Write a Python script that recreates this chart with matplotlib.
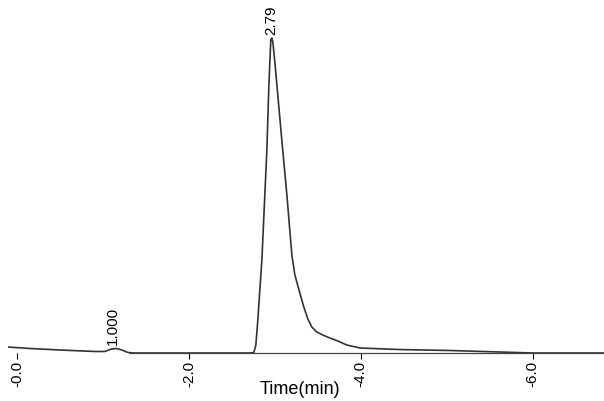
import numpy as np
import matplotlib
matplotlib.use('Agg')
import matplotlib.pyplot as plt

# chromatogram trace (time in min, signal in % of main peak)
time = [-0.105, 0.15, 0.50, 0.91, 1.02, 1.10, 1.16, 1.22, 1.29, 1.37,
        2.71, 2.756, 2.779, 2.802, 2.849, 2.907, 2.930, 2.942, 2.953, 2.965,
        2.977, 3.00, 3.081, 3.14, 3.198, 3.233, 3.291, 3.337, 3.384, 3.43,
        3.488, 3.558, 3.64, 3.733, 3.837, 3.99, 4.45, 5.03, 6.0, 6.83]
signal = [1.9, 1.43, 0.95, 0.48, 0.48, 1.27, 1.43, 0.95, 0.16, 0.0,
          0.0, 0.16, 2.54, 10.5, 29.5, 64.4, 84.4, 92.4, 99.4, 100.0,
          98.7, 92.4, 67.6, 50.2, 31.1, 24.8, 19.0, 14.6, 10.8, 8.25,
          6.67, 5.71, 4.76, 3.81, 2.54, 1.59, 1.1, 0.8, 0.0, 0.0]

# peak annotations: position, height, label
peak_t = [1.12, 2.958]
peak_h = [1.6, 100.0]
peak_lbl = ['1.000', '2.79']

ticks = [0.0, 2.0, 4.0, 6.0]
tick_lbls = ['-0.0', '-2.0', '-4.0', '-6.0']

plt.rcParams['font.family'] = ['Liberation Sans', 'DejaVu Sans']

fig = plt.figure(figsize=(6.04, 4.01), dpi=100)
ax = fig.add_axes([8 / 604, 48 / 401, 596 / 604, 353 / 401])

ax.plot(time, signal, color='#333333', lw=1.2)

for t, h, s in zip(peak_t, peak_h, peak_lbl):
    ax.annotate(s, (t, h), xytext=(0, 2), textcoords='offset points',
                rotation=90, ha='center', va='bottom', fontsize=11)

ax.set_xlim(-0.105, 6.83)
ax.set_ylim(0, 112.06)
ax.set_xticks(ticks)
ax.set_xticklabels(tick_lbls, rotation=90, fontsize=11)
ax.tick_params(axis='x', direction='out', length=4, width=0.8, pad=2)
ax.set_yticks([])
for side in ['top', 'left', 'right']:
    ax.spines[side].set_visible(False)
ax.spines['bottom'].set_bounds(1.3, 6.83)
ax.spines['bottom'].set_color('#444444')
ax.spines['bottom'].set_linewidth(0.9)

# axis title sits just above the bottom edge
fig.text(300 / 604, 12 / 401, 'Time(min)', ha='center', va='center', fontsize=13)

fig.savefig('out.png', dpi=100)
